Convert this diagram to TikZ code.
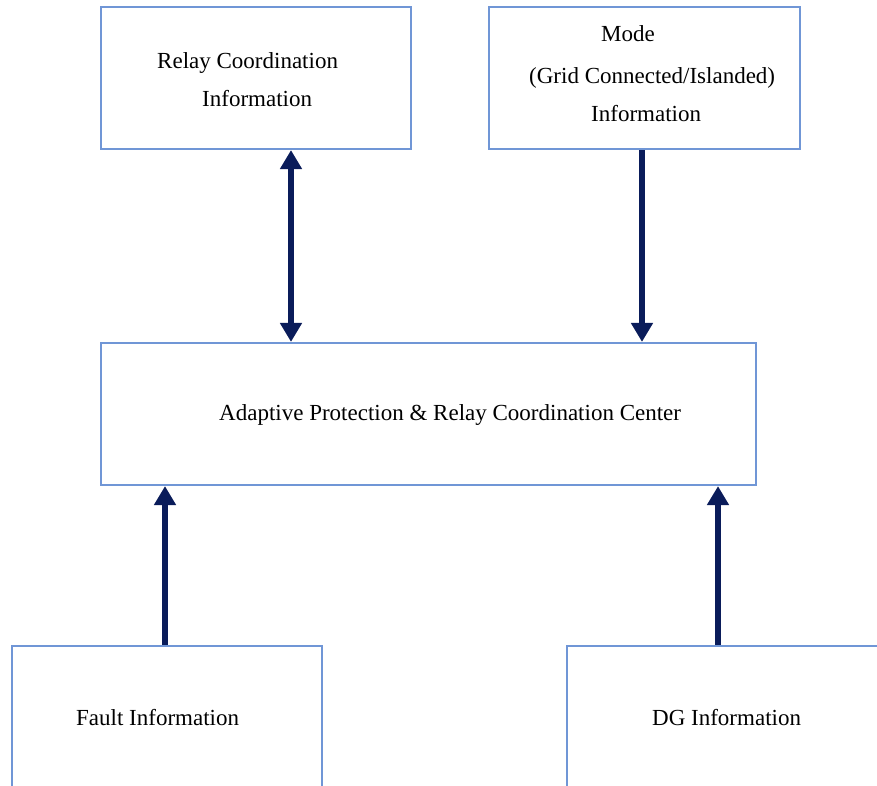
\documentclass[tikz,border=0pt]{standalone}
\usepackage{fontspec}
\setmainfont{Liberation Serif}
\usetikzlibrary{arrows.meta}
\definecolor{boxline}{RGB}{112,150,214}
\definecolor{navy}{RGB}{10,28,90}
\tikzset{
  infobox/.style={draw=boxline, line width=2.2pt, rectangle, inner sep=0pt},
  lbl/.style={anchor=base west, inner sep=0pt, font=\fontsize{23pt}{27pt}\selectfont},
  flow/.style={draw=navy, line width=6pt, -{Triangle[width=21pt,length=19pt]}},
  flowboth/.style={draw=navy, line width=6pt, {Triangle[width=21pt,length=19pt]}-{Triangle[width=21pt,length=19pt]}}
}
\begin{document}
\begin{tikzpicture}[x=1pt,y=-1pt]
\useasboundingbox (0,0) rectangle (877,786);
\clip (0,0) rectangle (877,786);
\fill[white] (0,0) rectangle (877,786);

% boxes
\node[infobox, minimum width=310pt, minimum height=142pt] (relay) at (256,78) {};
\node[infobox, minimum width=311pt, minimum height=142pt] (mode) at (644.5,78) {};
\node[infobox, minimum width=655pt, minimum height=142pt] (center) at (428.5,414) {};
\node[infobox, minimum width=310pt, minimum height=170pt] (fault) at (167,731) {};
\node[infobox, minimum width=330pt, minimum height=170pt] (dg) at (732,731) {};

% labels
\node[lbl] (t1) at (157,69) {Relay Coordination};
\node[lbl] (t2) at (202,107) {Information};
\node[lbl] (t3) at (601,42) {Mode};
\node[lbl] (t4) at (529,84) {(Grid Connected/Islanded)};
\node[lbl] (t5) at (591,122) {Information};
\node[lbl] (t6) at (219,420) {Adaptive Protection \& Relay Coordination Center};
\node[lbl] (t7) at (76,725) {Fault Information};
\node[lbl] (t8) at (652,725) {DG Information};

% connectors
\draw[flowboth] (relay.south -| 291,0) -- (center.north -| 291,0);
\draw[flow] (mode.south -| 642,0) -- (center.north -| 642,0);
\draw[flow] (fault.north -| 165,0) -- (center.south -| 165,0);
\draw[flow] (dg.north -| 718,0) -- (center.south -| 718,0);
\end{tikzpicture}
\end{document}
